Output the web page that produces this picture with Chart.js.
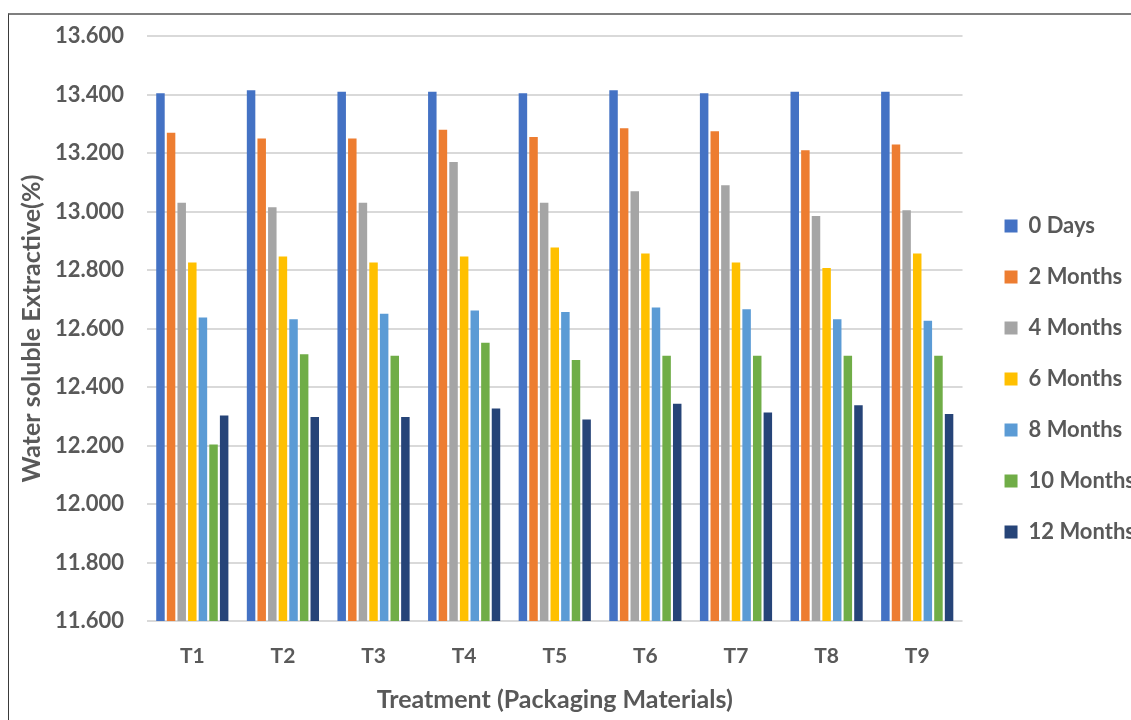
<!DOCTYPE html>
<html>
<head>
<meta charset="utf-8">
<title>Water soluble Extractive</title>
<script src="https://cdn.jsdelivr.net/npm/chart.js@4.4.1/dist/chart.umd.min.js"></script>
<style>
  body { margin: 0; background: #fff; }
  #wrap { position: relative; width: 1131px; height: 720px; overflow: hidden; }
  #frame { position: absolute; left: 8px; top: 13px; right: 0; bottom: 0; border-top: 2px solid #7f7f7f; border-left: 1px solid #3a3a3a; }
  #chart { position: absolute; left: 0; top: 0; }
</style>
</head>
<body>
<div id="wrap">
  <div id="frame"></div>
  <canvas id="chart" width="1145" height="720"></canvas>
</div>
<script>
// Tratamientos (materiales de empaque)
const treatments = ['T1', 'T2', 'T3', 'T4', 'T5', 'T6', 'T7', 'T8', 'T9'];
const periods = ['0 Days', '2 Months', '4 Months', '6 Months', '8 Months', '10 Months', '12 Months'];

// Extracto soluble en agua (%) por periodo de almacenamiento
const days0 = [13.405, 13.415, 13.410, 13.410, 13.405, 13.415, 13.405, 13.410, 13.410];
const months2 = [13.270, 13.250, 13.250, 13.280, 13.255, 13.285, 13.275, 13.210, 13.230];
const months4 = [13.030, 13.015, 13.030, 13.170, 13.030, 13.070, 13.090, 12.985, 13.005];
const months6 = [12.826, 12.847, 12.826, 12.847, 12.877, 12.857, 12.826, 12.807, 12.857];
const months8 = [12.638, 12.632, 12.651, 12.662, 12.657, 12.672, 12.666, 12.632, 12.627];
const months10 = [12.204, 12.512, 12.507, 12.552, 12.493, 12.507, 12.507, 12.507, 12.507];
const months12 = [12.303, 12.298, 12.298, 12.327, 12.289, 12.343, 12.313, 12.338, 12.308];

// Marcas del eje Y
const yTickValues = [11.6, 11.8, 12.0, 12.2, 12.4, 12.6, 12.8, 13.0, 13.2, 13.4, 13.6];

const colors = ['#4472C4', '#ED7D31', '#A5A5A5', '#FFC000', '#5B9BD5', '#70AD47', '#264478'];
const series = [days0, months2, months4, months6, months8, months10, months12];

const textGray = '#595959';

const ctx = document.getElementById('chart').getContext('2d');
const chart = new Chart(ctx, {
    type: 'bar',
    data: {
        labels: treatments,
        datasets: series.map((values, i) => ({
            label: periods[i],
            data: values,
            backgroundColor: colors[i],
            borderWidth: 0,
            yAxisID: 'y'
        }))
    },
    options: {
        responsive: false,
        animation: false,
        categoryPercentage: 0.82,
        barPercentage: 0.8,
        layout: {
            padding: { left: 10, top: 35, right: 0, bottom: -3 }
        },
        scales: {
            x: {
                grid: { display: false, drawTicks: false },
                border: { display: false },
                ticks: {
                    color: textGray,
                    padding: 23,
                    font: { family: 'Lato', size: 21, weight: 'bold' }
                },
                title: {
                    display: true,
                    text: 'Treatment (Packaging Materials)',
                    color: textGray,
                    font: { family: 'Lato', size: 25, weight: 'bold' },
                    padding: { top: 0, bottom: 8 }
                },
                afterFit: function(scale) {
                    scale.height = 102;
                }
            },
            y: {
                min: 11.6,
                max: 13.6,
                afterBuildTicks: function(scale) {
                    scale.ticks = yTickValues.map(v => ({ value: v }));
                },
                grid: { color: '#d9d9d9', lineWidth: 2, drawTicks: false },
                border: { display: false },
                ticks: {
                    color: textGray,
                    padding: 23,
                    font: { family: 'Lato', size: 22, weight: 'bold' },
                    callback: function(value) {
                        return value.toFixed(3);
                    }
                },
                title: {
                    display: true,
                    text: 'Water soluble Extractive(%)',
                    color: textGray,
                    font: { family: 'Lato', size: 25, weight: 'bold' },
                    padding: { top: 7, bottom: 0 }
                },
                afterFit: function(scale) {
                    scale.width = 137;
                }
            },
            // eje vacío para dejar espacio antes de la leyenda
            yGap: {
                type: 'linear',
                position: 'right',
                grid: { display: false, drawTicks: false },
                border: { display: false },
                ticks: { display: false },
                afterFit: function(scale) {
                    scale.width = 13;
                }
            }
        },
        plugins: {
            legend: {
                position: 'right',
                labels: {
                    boxWidth: 13,
                    boxHeight: 13,
                    padding: 29,
                    color: textGray,
                    font: { family: 'Lato', size: 22, weight: 'bold' }
                }
            },
            tooltip: { enabled: false }
        }
    }
});
</script>
</body>
</html>
